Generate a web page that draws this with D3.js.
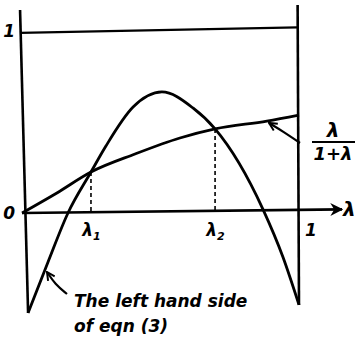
<!DOCTYPE html>
<html>
<head>
<meta charset="utf-8">
<script src="https://cdn.jsdelivr.net/npm/d3@7"></script>
<style>
  html, body { margin: 0; padding: 0; background: #fff; }
  svg { display: block; }
  text { font-family: "DejaVu Sans", sans-serif; font-style: italic; fill: #000; }
</style>
</head>
<body>
<svg id="chart" width="355" height="345"></svg>
<script>
// λ/(1+λ) as sketched
const ratioX = [0, 0.126, 0.249, 0.408, 0.570, 0.697, 0.884, 1.0];
const ratioY = [0, 0.110, 0.225, 0.324, 0.412, 0.462, 0.505, 0.538];

// left hand side of eqn (3)
const lhsX = [0.022, 0.094, 0.166, 0.249, 0.303, 0.401, 0.505, 0.617, 0.697, 0.870, 0.942, 1.0];
const lhsY = [-0.549, -0.269, 0, 0.225, 0.368, 0.582, 0.665, 0.577, 0.462, 0.02, -0.242, -0.505];

// intersections
const rootX = [0.249, 0.697];
const rootY = [0.225, 0.462];
const rootLabels = ["λ", "λ"];
const rootSubs = ["1", "2"];

const svg = d3.select("#chart");
const x = d3.scaleLinear().domain([0, 1]).range([22, 299]);
const y = d3.scaleLinear().domain([0, 1]).range([213, 31]);

const ink = "#000";

// frame: verticals at λ=0 and λ=1, horizontal line at 1
svg.append("line").attr("x1", x(-0.007)).attr("y1", 10).attr("x2", x(lhsX[0])).attr("y2", y(lhsY[0]))
  .attr("stroke", ink).attr("stroke-width", 2.6);
svg.append("line").attr("x1", x(0.995)).attr("y1", 5).attr("x2", x(1.0)).attr("y2", y(lhsY[lhsY.length - 1]))
  .attr("stroke", ink).attr("stroke-width", 2.6);
svg.append("line").attr("x1", x(-0.007)).attr("y1", y(0.99)).attr("x2", x(0.995)).attr("y2", y(1.02))
  .attr("stroke", ink).attr("stroke-width", 2.2);

// λ axis with arrow
const defs = svg.append("defs");
defs.append("marker").attr("id", "arr").attr("viewBox", "0 0 10 10")
  .attr("refX", 9).attr("refY", 5).attr("markerWidth", 5).attr("markerHeight", 5).attr("orient", "auto")
  .append("path").attr("d", "M0,0 L10,5 L0,10 L3,5 Z").attr("fill", ink);
defs.append("marker").attr("id", "open").attr("viewBox", "0 0 10 10")
  .attr("refX", 9).attr("refY", 5).attr("markerWidth", 4.5).attr("markerHeight", 4.5).attr("orient", "auto")
  .append("path").attr("d", "M1,1 L9,5 L1,9").attr("fill", "none").attr("stroke", ink).attr("stroke-width", 2);
svg.append("line").attr("x1", x(0)).attr("y1", y(0)).attr("x2", 342).attr("y2", y(0.02))
  .attr("stroke", ink).attr("stroke-width", 2.6).attr("marker-end", "url(#arr)");

// tick labels via axes, no tick marks or domain
const xAxis = d3.axisBottom(x).tickValues([...rootX, 1]).tickSize(0)
  .tickFormat((d, i) => i < 2 ? rootLabels[i] : "1");
const gx = svg.append("g").attr("transform", `translate(0,${y(0) + 6})`).call(xAxis);
gx.select(".domain").remove();
gx.selectAll("text").attr("font-size", 17).attr("font-family", "DejaVu Sans").attr("font-style", "italic")
  .attr("font-weight", "bold").attr("dy", "0.85em");
gx.selectAll(".tick").filter((d, i) => i < 2).select("text")
  .append("tspan").attr("font-size", 11).attr("dy", "0.3em").text((d, i) => rootSubs[i]);
gx.selectAll(".tick").filter((d, i) => i === 2).attr("transform", `translate(${x(1) + 12},0)`);

const yAxis = d3.axisLeft(y).tickValues([0, 1]).tickSize(0).tickFormat(d3.format("d"));
const gy = svg.append("g").attr("transform", `translate(${x(0) - 4},0)`).call(yAxis);
gy.select(".domain").remove();
gy.selectAll("text").attr("font-size", 17).attr("font-family", "DejaVu Sans").attr("font-style", "italic")
  .attr("font-weight", "bold");

svg.append("text").attr("x", 343).attr("y", y(0.02)).attr("dy", "0.35em")
  .attr("font-size", 20).attr("font-weight", "bold").text("λ");

// dashed drops from intersections
rootX.forEach((rx, i) => {
  svg.append("line").attr("x1", x(rx)).attr("y1", y(rootY[i])).attr("x2", x(rx)).attr("y2", y(0))
    .attr("stroke", ink).attr("stroke-width", 1.6).attr("stroke-dasharray", "4,3");
});

// curves
const line = d3.line().x(d => x(d[0])).y(d => y(d[1])).curve(d3.curveMonotoneX);
svg.append("path").datum(d3.zip(ratioX, ratioY)).attr("d", line)
  .attr("fill", "none").attr("stroke", ink).attr("stroke-width", 2.8);
svg.append("path").datum(d3.zip(lhsX, lhsY)).attr("d", line)
  .attr("fill", "none").attr("stroke", ink).attr("stroke-width", 2.8);

// label λ/(1+λ) with pointer
svg.append("text").attr("x", 333).attr("y", 137).attr("text-anchor", "middle")
  .attr("font-size", 20).attr("font-weight", "bold").text("λ");
svg.append("line").attr("x1", 312).attr("y1", 142).attr("x2", 355).attr("y2", 142)
  .attr("stroke", ink).attr("stroke-width", 2);
svg.append("text").attr("x", 333).attr("y", 160).attr("text-anchor", "middle")
  .attr("font-size", 18).attr("font-weight", "bold").text("1+λ");

const pointer = d3.line().curve(d3.curveBasis);
svg.append("path").attr("d", pointer([[300, 143], [284, 132], [269, 123]]))
  .attr("fill", "none").attr("stroke", ink).attr("stroke-width", 2.2).attr("marker-end", "url(#open)");
svg.append("path").attr("d", pointer([[67, 294], [55, 284], [47, 272]]))
  .attr("fill", "none").attr("stroke", ink).attr("stroke-width", 2.2).attr("marker-end", "url(#open)");

svg.append("text").attr("x", 74).attr("y", 307).attr("font-size", 17).attr("font-weight", "bold")
  .text("The left hand side");
svg.append("text").attr("x", 74).attr("y", 332).attr("font-size", 17).attr("font-weight", "bold")
  .text("of eqn (3)");
</script>
</body>
</html>
